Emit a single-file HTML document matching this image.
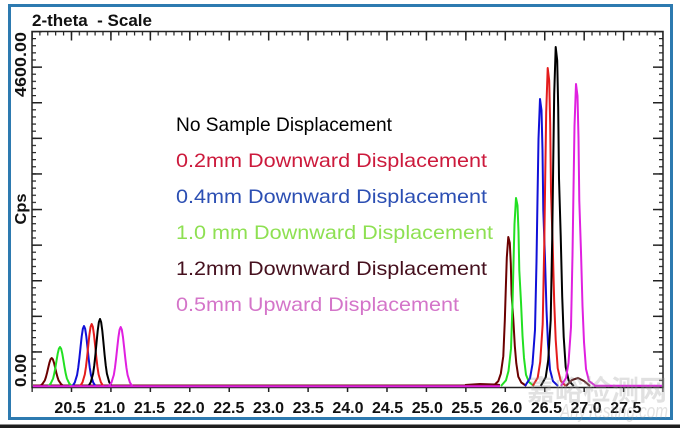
<!DOCTYPE html>
<html>
<head>
<meta charset="utf-8">
<style>
  html,body{margin:0;padding:0;background:#fff;}
  svg{display:block;}
  text{font-family:"Liberation Sans","Noto Sans CJK SC",sans-serif;}
</style>
</head>
<body>
<svg width="680" height="428" viewBox="0 0 680 428" xmlns="http://www.w3.org/2000/svg">
  <defs>
    <pattern id="mx" x="31.4" y="0" width="7.8875" height="20" patternUnits="userSpaceOnUse">
      <rect x="0" y="0" width="1.2" height="20" fill="#222"/>
    </pattern>
    <pattern id="Mx" x="31.3" y="0" width="39.4375" height="20" patternUnits="userSpaceOnUse">
      <rect x="0" y="0" width="1.5" height="20" fill="#222"/>
    </pattern>
    <pattern id="my" x="0" y="30.9" width="20" height="7.12" patternUnits="userSpaceOnUse">
      <rect x="0" y="0" width="20" height="1.2" fill="#222"/>
    </pattern>
    <pattern id="My" x="0" y="30.8" width="20" height="35.6" patternUnits="userSpaceOnUse">
      <rect x="0" y="0" width="20" height="1.5" fill="#222"/>
    </pattern>
  </defs>

  <rect x="0" y="0" width="680" height="428" fill="#fff"/>
  <!-- outer blue frame -->
  <rect x="9.5" y="5.5" width="662" height="413" fill="#fff" stroke="#2d7ab0" stroke-width="3"/>
  <!-- bottom dark line -->
  <rect x="0" y="424.5" width="680" height="3.5" fill="#1e1e1e"/>

  <!-- title -->
  <text x="32" y="26" font-size="17" font-weight="bold" fill="#111" textLength="120" lengthAdjust="spacingAndGlyphs" style="white-space:pre">2-theta  - Scale</text>

  <!-- ticks -->
  <rect x="31.5" y="31.5" width="632" height="4" fill="url(#mx)"/>
  <rect x="31.5" y="31.5" width="632" height="9" fill="url(#Mx)"/>
  <rect x="31.5" y="387.5" width="632" height="4.5" fill="url(#Mx)"/>
  <rect x="32" y="31" width="4" height="357" fill="url(#my)"/>
  <rect x="32" y="31" width="10" height="357" fill="url(#My)"/>
  <rect x="659" y="31" width="4" height="357" fill="url(#my)"/>
  <rect x="653" y="31" width="10" height="357" fill="url(#My)"/>

  <!-- axes box -->
  <rect x="32" y="31.5" width="631" height="356" fill="none" stroke="#222" stroke-width="1.5"/>

  <!-- y labels -->
  <text transform="translate(26,32) rotate(-90)" text-anchor="end" font-size="16" font-weight="bold" fill="#111" textLength="65" lengthAdjust="spacingAndGlyphs">4600.00</text>
  <text transform="translate(26,387) rotate(-90)" text-anchor="start" font-size="16" font-weight="bold" fill="#111" textLength="33" lengthAdjust="spacingAndGlyphs">0.00</text>
  <text transform="translate(26,209) rotate(-90)" text-anchor="middle" font-size="16" font-weight="bold" fill="#111" textLength="31" lengthAdjust="spacingAndGlyphs">Cps</text>

  <!-- x labels -->
  <g font-size="16" font-weight="bold" fill="#111" text-anchor="middle">
    <text x="70" y="413">20.5</text>
    <text x="109.7" y="413">21.0</text>
    <text x="149.4" y="413">21.5</text>
    <text x="189.1" y="413">22.0</text>
    <text x="228.8" y="413">22.5</text>
    <text x="268.5" y="413">23.0</text>
    <text x="308.2" y="413">23.5</text>
    <text x="347.9" y="413">24.0</text>
    <text x="387.6" y="413">24.5</text>
    <text x="427.3" y="413">25.0</text>
    <text x="467" y="413">25.5</text>
    <text x="506.7" y="413">26.0</text>
    <text x="546.4" y="413">26.5</text>
    <text x="586.1" y="413">27.0</text>
    <text x="625.8" y="413">27.5</text>
  </g>

  <!-- legend -->
  <g font-size="19.5">
    <text x="176" y="131" fill="#000" textLength="216" lengthAdjust="spacingAndGlyphs">No Sample Displacement</text>
    <text x="176" y="167" fill="#cc1a3c" textLength="311" lengthAdjust="spacingAndGlyphs">0.2mm Downward Displacement</text>
    <text x="176" y="203" fill="#2c4fb3" textLength="311" lengthAdjust="spacingAndGlyphs">0.4mm Downward Displacement</text>
    <text x="176" y="239" fill="#8ee052" textLength="317" lengthAdjust="spacingAndGlyphs">1.0 mm Downward Displacement</text>
    <text x="176" y="275" fill="#45101e" textLength="311" lengthAdjust="spacingAndGlyphs">1.2mm Downward Displacement</text>
    <text x="176" y="311" fill="#d475c9" textLength="283" lengthAdjust="spacingAndGlyphs">0.5mm Upward Displacement</text>
  </g>

  <!-- curves -->
  <g fill="none" stroke-width="2" stroke-linejoin="round">
    <!-- baseline bits -->
    <polyline stroke="#6b0a10" points="33,385.5 500,385.5"/>
    <polyline stroke="#6b0a10" points="465,385 480,384 495,384.5 500,385"/>

    <!-- low peaks -->
    <polyline stroke="#6b0000" points="40.2,386 42.5,383.8 44.8,380.4 45.95,377 47.1,372.6 48.25,367.6 49.4,362.8 50.55,359.3 51.7,358 52.85,359.3 54,362.8 55.15,367.6 56.3,372.6 57.45,377 58.6,380.4 60.9,383.8 63.2,386"/>
    <polyline stroke="#22e022" points="48.5,386 50.8,383.3 53.1,378.5 54.25,373.8 55.4,367.6 56.55,360.5 57.7,353.7 58.85,348.8 60,347 61.15,348.8 62.3,353.7 63.45,360.5 64.6,367.6 65.75,373.8 66.9,378.5 69.2,383.3 71.5,386"/>
    <polyline stroke="#1010d8" points="72.5,386 74.8,382.4 77.1,374.9 78.25,367.6 79.4,358 80.55,347 81.7,336.4 82.85,328.8 84,326 85.15,328.8 86.3,336.4 87.45,347 88.6,358 89.75,367.6 90.9,374.9 93.2,382.4 95.5,386"/>
    <polyline stroke="#e41c1c" points="80.2,386 82.5,382.3 84.8,374.5 85.95,367 87.1,357.1 88.25,345.7 89.4,334.8 90.55,326.9 91.7,324 92.85,326.9 94,334.8 95.15,345.7 96.3,357.1 97.45,367 98.6,374.5 100.9,382.3 103.2,386"/>
    <polyline stroke="#000" points="88.5,386 90.8,382.1 93.1,373.6 94.25,365.5 95.4,354.8 96.55,342.5 97.7,330.7 98.85,322.2 100,319 101.15,322.2 102.3,330.7 103.45,342.5 104.6,354.8 105.75,365.5 106.9,373.6 109.2,382.1 111.5,386"/>
    <polyline stroke="#e020e0" points="109.2,386 111.5,382.4 113.8,375 114.95,367.9 116.1,358.4 117.25,347.6 118.4,337.3 119.55,329.8 120.7,327 121.85,329.8 123,337.3 124.15,347.6 125.3,358.4 126.45,367.9 127.6,375 129.9,382.4 132.2,386"/>

    <!-- high peaks -->
    <polyline stroke="#6b0000" points="493.3,386 498.3,381.1 500.8,373.7 503.3,356.1 504.8,320.8 505.8,288.5 506.8,257.6 508.3,237 509.8,242.9 510.8,263.5 511.6,294.3 513.3,319.3 514.8,345.8 516.3,363.4 518.3,376.7 521.3,382.5 526.3,386"/>
    <polyline stroke="#22e022" points="501,386 506,380.3 508.5,371 511,348.7 512.5,304 513.5,263.1 514.5,224 516,198 517.5,205.4 518.5,231.5 519.3,270.5 521,302.2 522.5,335.6 524,358 526,374.7 529,382.1 534,386"/>
    <polyline stroke="#1010d8" points="525,386 530,378.3 532.5,364 535,329.9 536.5,261.5 537.5,198.8 538.5,138.9 540,99 541.5,110.4 542.5,150.3 543.3,210.2 545,258.6 546.5,309.9 548,344.1 550,369.8 553,381.2 558,386"/>
    <polyline stroke="#e41c1c" points="532.7,386 537.7,377.7 540.2,361.9 542.7,324 544.2,248.1 545.2,178.6 546.2,112.2 547.7,68 549.2,80.6 550.2,124.9 551,191.2 552.7,245 554.2,301.8 555.7,339.8 557.7,368.2 560.7,380.8 565.7,386"/>
    <polyline stroke="#000" points="540.7,386 545.7,377.3 548.2,360.4 550.7,320 552.2,239.1 553.2,164.9 554.2,94.2 555.7,47 557.2,60.5 558.2,107.7 559,178.4 560.7,235.7 562.2,296.4 563.7,336.8 565.7,367.2 568.7,380.6 573.7,386"/>
    <polyline stroke="#5a2020" points="566,386 572,380 578,378 584,381 590,386"/>
    <polyline stroke="#e020e0" points="561,386 566,378 568.5,363 571,327 572.5,255 573.5,189 574.5,126 576,84 577.5,96 578.5,138 579.3,201 581,252 582.5,306 584,342 586,369 589,381 595,385.5"/>

    <!-- magenta baseline on top -->
    <polyline stroke="#e020e0" points="33,386.3 500,386.3"/>
    <polyline stroke="#e020e0" points="594,385.8 662,385.8"/>
  </g>

  <!-- watermark -->
  <text x="527" y="400" font-size="28" font-weight="bold" fill="#9a9a9a" fill-opacity="0.3" textLength="140" lengthAdjust="spacingAndGlyphs" style="font-family:'Noto Sans CJK SC','WenQuanYi Zen Hei',sans-serif">嘉峪检测网</text>
  <text x="560" y="418" font-size="20" font-style="italic" fill="#9a9a9a" fill-opacity="0.3" textLength="108" lengthAdjust="spacingAndGlyphs">AnyTesting.com</text>
</svg>
</body>
</html>
